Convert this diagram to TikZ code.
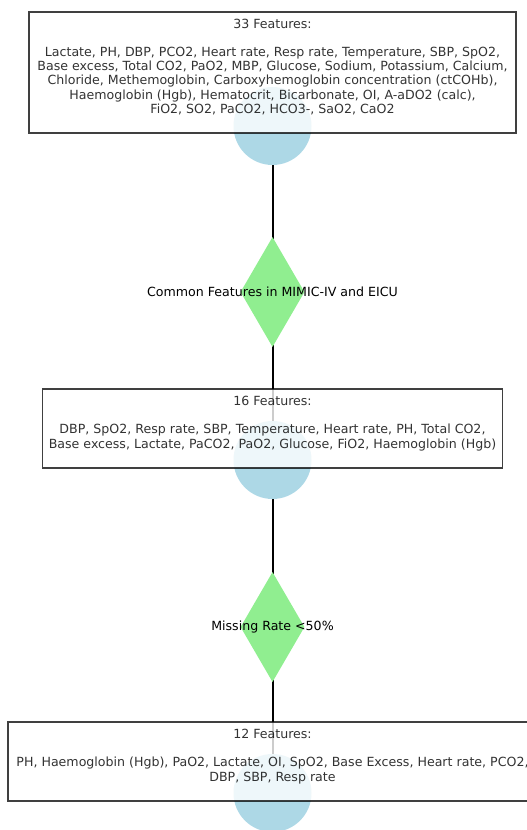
\documentclass[tikz,border=0pt]{standalone}
\usepackage{fontspec}
\setmainfont{DejaVu Sans}
\usetikzlibrary{shapes.geometric}
\definecolor{circblue}{HTML}{ADD8E6}
\definecolor{diagreen}{HTML}{90EE90}
\pgfdeclarelayer{bg}
\pgfsetlayers{bg,main}
\newcommand{\toppad}{\rule{0pt}{15pt}}
\tikzset{
  txt/.style={font=\fontsize{12.6}{14.15}\selectfont},
  featbox/.style={txt, rectangle, draw=black, draw opacity=0.75, line width=1.4pt,
    fill=white, fill opacity=0.8, text opacity=0.8, align=center, inner sep=0pt},
  blob/.style={circle, fill=circblue, draw=none, minimum size=78pt, inner sep=0pt},
  gate/.style={diamond, fill=diagreen, draw=none, minimum width=64pt, minimum height=110pt, inner sep=0pt},
  gatetext/.style={txt, text=black, inner sep=0pt},
  link/.style={draw=black, line width=2pt}
}
\begin{document}
\begin{tikzpicture}[x=1pt,y=-1pt]
\useasboundingbox (0,0) rectangle (527,830);
% circles
\node[blob] (c1) at (272.5,126) {};
\node[blob] (c2) at (272.5,460) {};
\node[blob] (c3) at (272.5,793) {};
% diamonds
\node[gate] (d1) at (272.5,292) {};
\node[gate] (d2) at (272.5,627) {};
% connectors
\begin{pgfonlayer}{bg}
\draw[link] (c1.center) -- (d1.center) -- (c2.center);
\draw[link] (c2.center) -- (d2.center) -- (c3.center);
\end{pgfonlayer}
% boxes
\node[featbox, minimum width=487pt, minimum height=121pt] (b1) at (272.5,72.5) {\toppad 33 Features:\\ \strut\\
Lactate, PH, DBP, PCO2, Heart rate, Resp rate, Temperature, SBP, SpO2,\\
Base excess, Total CO2, PaO2, MBP, Glucose, Sodium, Potassium, Calcium,\\
Chloride, Methemoglobin, Carboxyhemoglobin concentration (ctCOHb),\\
Haemoglobin (Hgb), Hematocrit, Bicarbonate, OI, A-aDO2 (calc),\\
FiO2, SO2, PaCO2, HCO3-, SaO2, CaO2\\ \strut};
\node[featbox, minimum width=460pt, minimum height=79pt] (b2) at (272.5,428.5) {\toppad 16 Features:\\ \strut\\
DBP, SpO2, Resp rate, SBP, Temperature, Heart rate, PH, Total CO2,\\
Base excess, Lactate, PaCO2, PaO2, Glucose, FiO2, Haemoglobin (Hgb)\\ \strut};
\node[featbox, minimum width=529pt, minimum height=79pt] (b3) at (272.5,761.5) {\toppad 12 Features:\\ \strut\\
PH, Haemoglobin (Hgb), PaO2, Lactate, OI, SpO2, Base Excess, Heart rate, PCO2,\\
DBP, SBP, Resp rate\\ \strut};
% diamond labels
\node[gatetext] (t1) at (d1.center) {Common Features in MIMIC-IV and EICU};
\node[gatetext] (t2) at (d2.center) {Missing Rate <50\%};
\end{tikzpicture}
\end{document}
